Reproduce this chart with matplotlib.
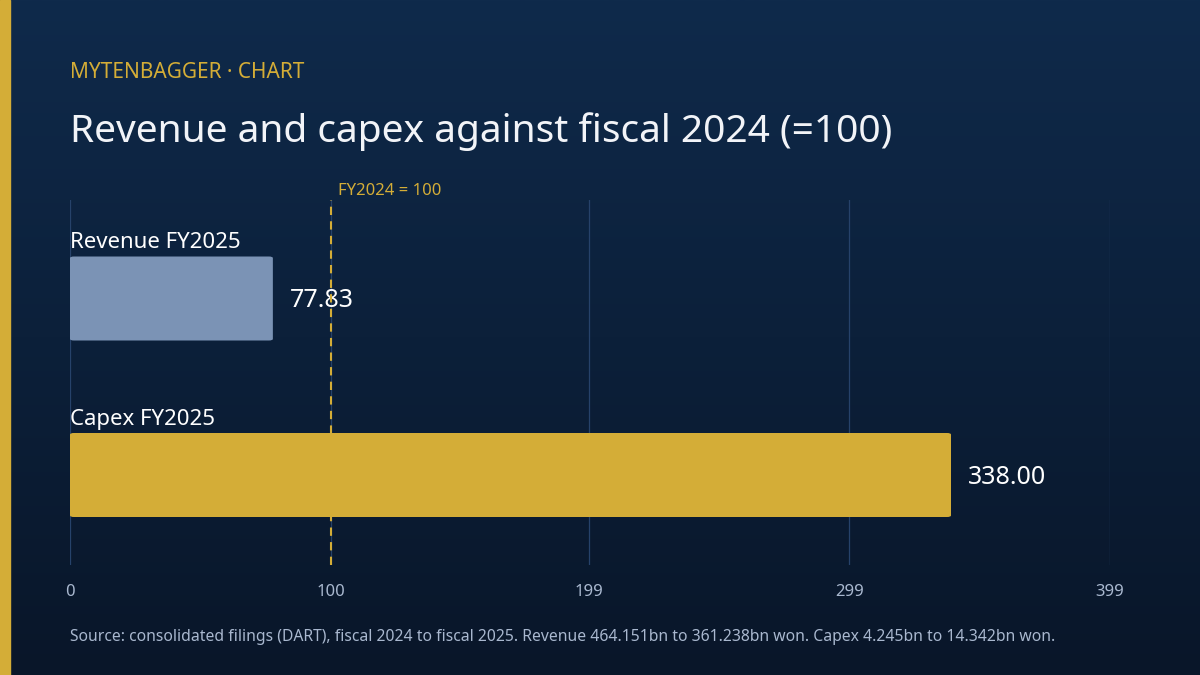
import matplotlib
matplotlib.use("Agg")
import matplotlib.pyplot as plt
import numpy as np
from matplotlib.patches import FancyBboxPatch
from matplotlib.colors import LinearSegmentedColormap

categories = ["Revenue FY2025", "Capex FY2025"]
values = [77.83, 338.00]
bar_colors = ["#7b93b5", "#d4ad37"]
ticks = [0, 100, 199, 299, 399]
baseline = 100

plt.rcParams['font.family'] = ['Noto Sans', 'DejaVu Sans']
fig = plt.figure(figsize=(12, 6.75), dpi=100)

bg = fig.add_axes([0, 0, 1, 1], zorder=-10)
grad = np.linspace(0, 1, 256).reshape(-1, 1)
cmap = LinearSegmentedColormap.from_list("g", ["#0f2a4b", "#091629"])
bg.imshow(grad, aspect='auto', cmap=cmap, extent=[0, 1, 0, 1], origin='upper')
bg.add_patch(plt.Rectangle((0, 0), 10/1200, 1, color="#d4ad37"))
bg.set_xlim(0, 1); bg.set_ylim(0, 1); bg.axis('off')

ax = fig.add_axes([70/1200, 1-565/675, 1040/1200, 365/675])
ax.set_facecolor('none')
ax.set_xlim(0, 399)
ax.set_ylim(365, 0)
centers = [98.5, 275]
h = 84
for c, v, col, y in zip(categories, values, bar_colors, centers):
    ax.add_patch(FancyBboxPatch((0, y-h/2), v, h, boxstyle="round,pad=0,rounding_size=1.5",
                                mutation_aspect=1, color=col, lw=0, zorder=3))
    ax.text(0, y-h/2-3, c, color="white", fontsize=16, fontweight='bold', va='bottom', ha='left')
    ax.text(v+6.5, y+2, f"{v:.2f}", color="white", fontsize=18, fontweight='bold', va='center', ha='left', zorder=4)
for t in ticks:
    ax.axvline(t, color="#26426a", lw=0.9, zorder=1)
ax.axvline(baseline, color="#d4ad37", lw=1.5, ls=(0, (4, 3)), zorder=5)
ax.text(baseline+3, -1, f"FY2024 = {baseline}", color="#d4ad37", fontsize=12, va='bottom', ha='left')
ax.set_xticks(ticks)
ax.set_xticklabels([str(t) for t in ticks], color="#a9b8cf", fontsize=12)
ax.tick_params(axis='x', length=0, pad=14)
ax.set_yticks([])
for s in ax.spines.values():
    s.set_visible(False)

fig.text(70/1200, 1-72/675, "MYTENBAGGER · CHART", color="#d4ad37", fontsize=15, fontweight='bold', va='center')
fig.text(70/1200, 1-132/675, "Revenue and capex against fiscal 2024 (=100)", color="#f2f4f8",
         fontsize=28, fontweight='bold', va='center')
fig.text(70/1200, 1-637/675, "Source: consolidated filings (DART), fiscal 2024 to fiscal 2025. Revenue 464.151bn to 361.238bn won. Capex 4.245bn to 14.342bn won.",
         color="#a9b8cf", fontsize=11.3, va='center')
fig.savefig("out.png", dpi=100)
